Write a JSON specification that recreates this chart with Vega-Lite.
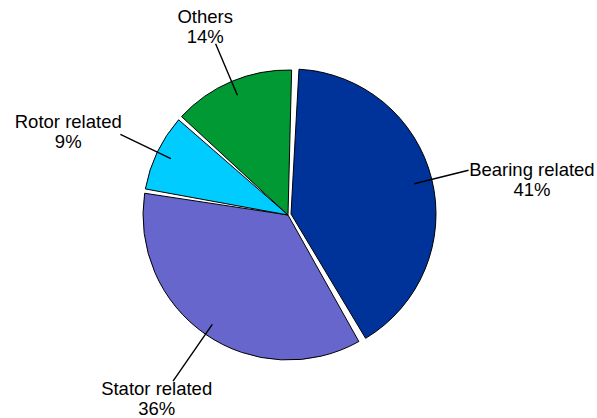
{
  "$schema": "https://vega.github.io/schema/vega-lite/v6.json",
  "width": 576,
  "height": 406,
  "autosize": {"type": "none"},
  "padding": {"left": 0, "right": 21, "top": 12, "bottom": 0},
  "background": "white",
  "view": {"stroke": null},
  "data": {
    "values": [
      {"category": "Bearing related", "pct": 41, "k": 1, "label": "Bearing related\n41%"},
      {"category": "Stator related", "pct": 36, "k": 2, "label": "Stator related\n36%"},
      {"category": "Rotor related", "pct": 9, "k": 3, "label": "Rotor related\n9%"},
      {"category": "Others", "pct": 14, "k": 4, "label": "Others\n14%"}
    ]
  },
  "encoding": {
    "theta": {"field": "pct", "type": "quantitative", "stack": true, "scale": {"range": [0.04, 6.3232]}},
    "order": {"field": "k", "type": "quantitative"}
  },
  "layer": [
    {
      "mark": {"type": "arc", "radius": 145, "padAngle": 0.03, "stroke": "black", "strokeWidth": 1},
      "encoding": {
        "color": {"field": "category", "type": "nominal", "legend": null,
          "scale": {"domain": ["Bearing related", "Stator related", "Rotor related", "Others"], "range": ["#003399", "#6666CC", "#00CCFF", "#009933"]}},
        "opacity": {"condition": {"test": "datum.category === 'Bearing related'", "value": 0}, "value": 1}
      }
    },
    {
      "mark": {"type": "arc", "radius": 145, "padAngle": 0.03, "stroke": "black", "strokeWidth": 1, "xOffset": 3, "yOffset": -1},
      "encoding": {
        "color": {"field": "category", "type": "nominal", "legend": null},
        "opacity": {"condition": {"test": "datum.category === 'Bearing related'", "value": 1}, "value": 0}
      }
    },
    {
      "mark": {"type": "arc", "radius": 186, "radius2": 130, "padAngle": 3.14, "stroke": "black", "strokeWidth": 1.4, "fillOpacity": 0},
      "encoding": {
        "strokeOpacity": {"condition": {"test": "datum.category === 'Stator related'", "value": 0}, "value": 1}
      }
    },
    {
      "mark": {"type": "arc", "radius": 202, "radius2": 133, "padAngle": 3.14, "stroke": "black", "strokeWidth": 1.4, "fillOpacity": 0},
      "encoding": {
        "strokeOpacity": {"condition": {"test": "datum.category === 'Stator related'", "value": 1}, "value": 0}
      }
    },
    {
      "mark": {"type": "text", "radius": 242, "dx": 9, "dy": 13, "font": "Liberation Sans", "fontSize": 18.5, "lineBreak": "\n", "lineHeight": 20, "align": "center", "baseline": "middle", "color": "black"},
      "encoding": {"text": {"condition": {"test": "datum.category === 'Bearing related'", "field": "label"}, "value": ""}}
    },
    {
      "mark": {"type": "text", "radius": 229, "dx": -1, "dy": -14, "font": "Liberation Sans", "fontSize": 18.5, "lineBreak": "\n", "lineHeight": 20, "align": "center", "baseline": "middle", "color": "black"},
      "encoding": {"text": {"condition": {"test": "datum.category === 'Stator related'", "field": "label"}, "value": ""}}
    },
    {
      "mark": {"type": "text", "radius": 235, "dx": -8, "dy": 9, "font": "Liberation Sans", "fontSize": 18.5, "lineBreak": "\n", "lineHeight": 20, "align": "center", "baseline": "middle", "color": "black"},
      "encoding": {"text": {"condition": {"test": "datum.category === 'Rotor related'", "field": "label"}, "value": ""}}
    },
    {
      "mark": {"type": "text", "radius": 205, "dx": -3, "dy": -9, "font": "Liberation Sans", "fontSize": 18.5, "lineBreak": "\n", "lineHeight": 20, "align": "center", "baseline": "middle", "color": "black"},
      "encoding": {"text": {"condition": {"test": "datum.category === 'Others'", "field": "label"}, "value": ""}}
    }
  ]
}
